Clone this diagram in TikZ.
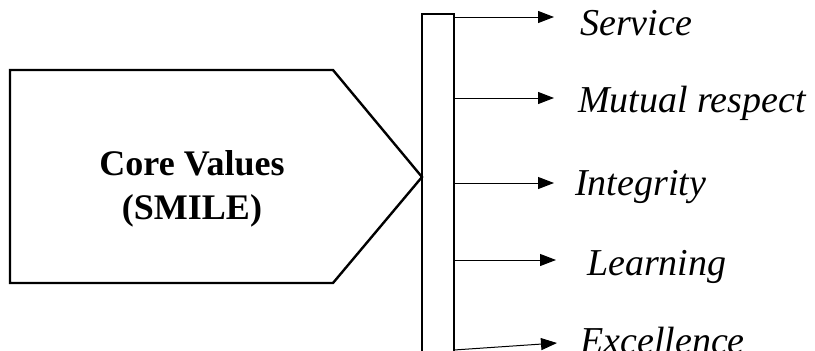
\documentclass[tikz,border=0pt]{standalone}
\usepackage{fontspec}
\setmainfont{Liberation Serif}
\usetikzlibrary{arrows.meta}
\begin{document}
\begin{tikzpicture}[x=1pt,y=-1pt,
  shapeline/.style={draw=black,line width=2.4pt,line join=miter},
  barbox/.style={draw=black,line width=2pt,minimum width=32pt,minimum height=360pt,inner sep=0pt,outer sep=0pt},
  conn/.style={draw=black,line width=1pt,-{Triangle[length=16pt,width=12pt]}},
  valtext/.style={font=\fontsize{38}{40}\selectfont\itshape,anchor=base west,inner sep=0pt},
  coretext/.style={font=\fontsize{36}{44}\selectfont\bfseries,align=center,inner sep=0pt}]
\useasboundingbox (0,0) rectangle (815,351);
% bar
\node[barbox] (bar) at (438,194) {};
% pentagon
\coordinate (tip) at (422,177);
\draw[shapeline] (10,70) -- (333,70) -- (tip) -- (333,283) -- (10,283) -- cycle;
\node[coretext] (core) at (192,189) {Core Values\\(SMILE)};
% arrow end points
\coordinate (s1) at (bar.east |- 0,17);
\coordinate (e1) at (554,17);
\coordinate (s2) at (bar.east |- 0,98);
\coordinate (e2) at (554,98);
\coordinate (s3) at (bar.east |- 0,183);
\coordinate (e3) at (554,183);
\coordinate (s4) at (bar.east |- 0,260);
\coordinate (e4) at (556,260);
\coordinate (s5) at (bar.east |- 0,350);
\coordinate (e5) at (557,343);
\draw[conn] (s1) -- (e1);
\draw[conn] (s2) -- (e2);
\draw[conn] (s3) -- (e3);
\draw[conn] (s4) -- (e4);
\draw[conn] (s5) -- (e5);
% labels
\node[valtext] (l1) at (580,35) {Service};
\node[valtext] (l2) at (578,112) {Mutual respect};
\node[valtext] (l3) at (575,195) {Integrity};
\node[valtext] (l4) at (587,275) {Learning};
\node[valtext] (l5) at (580,353) {Excellence};
\end{tikzpicture}
\end{document}
